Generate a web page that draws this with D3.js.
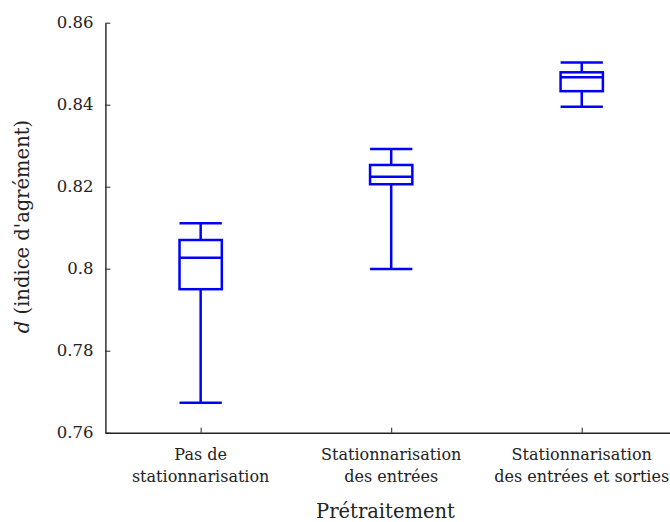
<!DOCTYPE html>
<html><head><meta charset="utf-8">
<script src="https://cdn.jsdelivr.net/npm/d3@7"></script>
<style>body{margin:0;background:#fff}svg{display:block}</style>
</head><body>
<svg id="c" width="670" height="522"></svg>
<script>
const categories = [["Pas de","stationnarisation"],["Stationnarisation","des entrées"],["Stationnarisation","des entrées et sorties"]];
const whiskerHigh = [0.8111, 0.8292, 0.8503];
const q3 = [0.8070, 0.8253, 0.8479];
const median = [0.8027, 0.8224, 0.8467];
const q1 = [0.7950, 0.8206, 0.8433];
const whiskerLow = [0.7673, 0.7999, 0.8395];
const yTicks = [0.76, 0.78, 0.80, 0.82, 0.84, 0.86];
const yTickLabels = ["0.76","0.78","0.8","0.82","0.84","0.86"];

const FONT = "DejaVu Serif";
const svg = d3.select("#c");
const pLeft = 105.4, pRight = 677, pTop = 22.7, pBottom = 432.7;
const x = d3.scaleLinear().domain([0.5, 3.5]).range([pLeft, pRight]);
const y = d3.scaleLinear().domain([0.76, 0.86]).range([pBottom, pTop]);
const fs = 16, fsTitle = 19.5;

// axes
const yAxis = svg.append("g").attr("transform", `translate(${pLeft},0)`)
  .call(d3.axisLeft(y).tickValues(yTicks).tickFormat((d,i)=>yTickLabels[i]).tickSizeInner(-5).tickSizeOuter(0).tickPadding(12));
const xAxis = svg.append("g").attr("transform", `translate(0,${pBottom})`)
  .call(d3.axisBottom(x).tickValues([1,2,3]).tickFormat("").tickSizeInner(-5).tickSizeOuter(0));
[yAxis, xAxis].forEach(g => {
  g.attr("font-family", FONT).attr("font-size", 16.5);
  g.select(".domain").attr("stroke", "#222").attr("stroke-width", 1.4);
  g.selectAll(".tick line").attr("stroke", "#222").attr("stroke-width", 1);
});
yAxis.selectAll(".tick text").attr("fill","#222");

// x category labels
categories.forEach((lines, i) => {
  const t = svg.append("text").attr("x", x(i+1)).attr("text-anchor", "middle")
    .attr("font-family", FONT).attr("font-size", fs).attr("fill", "#222");
  lines.forEach((l, j) => t.append("tspan").attr("x", x(i+1)).attr("y", 460 + j*22).text(l));
});

// axis titles
svg.append("text").attr("x", 385.5).attr("y", 518).attr("text-anchor","middle")
  .attr("font-family", FONT).attr("font-size", fsTitle).attr("fill","#222").text("Prétraitement");
const yl = svg.append("text").attr("transform", "translate(29,226.5) rotate(-90)").attr("text-anchor","middle")
  .attr("font-family", FONT).attr("font-size", fsTitle).attr("fill","#222");
yl.append("tspan").attr("font-style","italic").text("d");
yl.append("tspan").text(" (indice d'agrément)");

// boxes
const bw = 0.222;
const blue = "#0000ff";
const g = svg.append("g").attr("stroke", blue).attr("stroke-width", 2.5).attr("fill", "none");
categories.forEach((c, i) => {
  const cx = x(i+1), x0 = x(i+1-bw/2), x1 = x(i+1+bw/2);
  g.append("line").attr("x1", cx).attr("x2", cx).attr("y1", y(whiskerHigh[i])).attr("y2", y(q3[i]));
  g.append("line").attr("x1", cx).attr("x2", cx).attr("y1", y(q1[i])).attr("y2", y(whiskerLow[i]));
  g.append("line").attr("x1", x0).attr("x2", x1).attr("y1", y(whiskerHigh[i])).attr("y2", y(whiskerHigh[i]));
  g.append("line").attr("x1", x0).attr("x2", x1).attr("y1", y(whiskerLow[i])).attr("y2", y(whiskerLow[i]));
  g.append("rect").attr("x", x0).attr("width", x1-x0).attr("y", y(q3[i])).attr("height", y(q1[i]) - y(q3[i]));
  g.append("line").attr("x1", x0).attr("x2", x1).attr("y1", y(median[i])).attr("y2", y(median[i]));
});
</script>
</body></html>
